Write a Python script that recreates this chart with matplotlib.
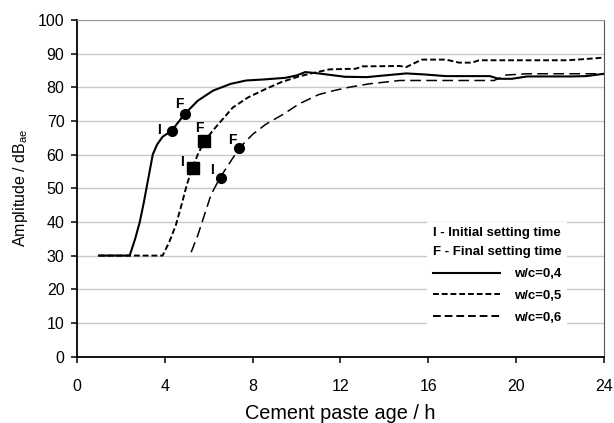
import numpy as np
import matplotlib
matplotlib.use("Agg")
import matplotlib.pyplot as plt
from matplotlib.lines import Line2D

plt.rcParams['font.family'] = ['Liberation Sans', 'DejaVu Sans']

# w/c = 0,4 (solid)
x04 = [1.0, 2.4, 2.65, 2.86, 3.05, 3.25, 3.45, 3.65, 3.9, 4.3, 4.9, 5.5, 6.2, 7.0, 7.7,
       8.5, 9.5, 10.0, 10.4, 11.0, 11.6, 12.2, 13.2, 14.0, 15.0, 15.8, 16.8,
       18.0, 18.8, 19.2, 19.8, 20.5, 21.5, 22.5, 23.2, 24.0]
y04 = [30, 30, 35, 40, 46, 53, 60, 63, 65.3, 67, 72, 76, 79, 81, 82,
       82.3, 82.8, 83.5, 84.5, 84.1, 83.6, 83.1, 83.0, 83.5, 84.1, 83.8, 83.3,
       83.3, 83.3, 82.5, 82.5, 83.2, 83.2, 83.2, 83.3, 84.0]

# w/c = 0,5 (short dashes)
x05 = [1.0, 3.9, 4.2, 4.5, 4.8, 5.0, 5.25, 5.5, 5.8, 6.3, 7.1, 7.8, 8.6, 9.3,
       10.1, 10.8, 11.5, 12.7, 13.0, 14.7, 15.0, 15.7, 16.8, 17.4, 18.0, 18.3,
       20.0, 22.3, 23.0, 24.0]
y05 = [30, 30, 34, 39, 46, 51, 56, 60, 64, 68, 74, 77, 79.5, 81.5,
       83.2, 84.3, 85.3, 85.5, 86.2, 86.3, 86.0, 88.2, 88.2, 87.3, 87.3, 88.0,
       88.0, 88.0, 88.3, 88.8]

# w/c = 0,6 (dashed)
x06 = [5.2, 5.5, 5.8, 6.1, 6.5, 7.0, 7.4, 8.0, 8.6, 9.4, 10.1, 11.0, 11.7,
       12.4, 13.3, 14.0, 14.7, 15.5, 17.0, 19.0, 19.5, 20.5, 22.0, 24.0]
y06 = [31, 36, 42, 48, 53, 58, 62, 66, 69, 72, 75, 77.8, 79,
       80, 81, 81.5, 82, 82, 82, 82, 83.6, 84, 84, 84]

# setting times (initial, final)
init_x = [4.32, 5.27, 6.55]
init_y = [67, 56, 53]
final_x = [4.9, 5.8, 7.36]
final_y = [72, 64, 62]
mark_style = ['o', 's', 'o']

fig = plt.figure(figsize=(6.14, 4.23), dpi=100)
ax = fig.add_axes([0.1254, 0.157, 0.8583, 0.796])

ax.plot(x04, y04, color='black', lw=1.5, ls='-', label='w/c=0,4')
ax.plot(x05, y05, color='black', lw=1.4, ls=(0, (3, 1.5)), label='w/c=0,5')
ax.plot(x06, y06, color='black', lw=1.1, ls=(0, (7, 3.5)), label='w/c=0,6')

for i in range(3):
    ax.plot(init_x[i], init_y[i], marker=mark_style[i], color='black',
            ms=7 if mark_style[i] == 'o' else 8, zorder=4)
    ax.plot(final_x[i], final_y[i], marker=mark_style[i], color='black',
            ms=7 if mark_style[i] == 'o' else 8, zorder=4)

# I / F labels next to markers (offsets in points)
i_off = [(-9.5, 1), (-8, 4), (-6.5, 6)]
f_off = [(-3.6, 7.5), (-3.6, 9.5), (-4.3, 5.5)]
for i in range(3):
    ax.annotate('I', (init_x[i], init_y[i]), xytext=i_off[i],
                textcoords='offset points', ha='center', va='center',
                fontsize=10, fontweight='bold')
    ax.annotate('F', (final_x[i], final_y[i]), xytext=f_off[i],
                textcoords='offset points', ha='center', va='center',
                fontsize=10, fontweight='bold')

ax.set_xlim(0, 24)
ax.set_ylim(0, 100)
ax.set_xticks(np.arange(0, 25, 4))
ax.set_yticks(np.arange(0, 101, 10))
ax.yaxis.grid(True, color='#c8c8c8', lw=1)
ax.set_axisbelow(True)

for s in ['left', 'bottom']:
    ax.spines[s].set_color('black')
    ax.spines[s].set_linewidth(1.3)
ax.spines['right'].set_color('#555555')
ax.spines['top'].set_color('#999999')
ax.tick_params(direction='out', length=4, width=1.1, labelsize=11.5)
ax.tick_params(axis='y', pad=5)
ax.tick_params(axis='x', pad=12)

ax.set_xlabel('Cement paste age / h', fontsize=14.3, labelpad=7)
ax.set_ylabel('Amplitude / dB$_{\\mathregular{ae}}$', fontsize=11.5, labelpad=6)

handles = [Line2D([], [], color='black', lw=1.5, ls='-'),
           Line2D([], [], color='black', lw=1.4, ls=(0, (3, 1.5))),
           Line2D([], [], color='black', lw=1.4, ls=(0, (4, 2)))]
leg = ax.legend(handles, ['w/c=0,4', 'w/c=0,5', 'w/c=0,6'],
                loc='upper right', bbox_to_anchor=(0.93, 0.40),
                borderaxespad=0, frameon=True, framealpha=1,
                edgecolor='none', facecolor='white', fancybox=False,
                handlelength=5.1, handletextpad=1.1, labelspacing=0.72,
                title='I - Initial setting time\nF - Final setting time',
                alignment='right', prop={'weight': 'bold', 'size': 9.5},
                title_fontproperties={'weight': 'bold', 'size': 9.5})
leg.get_title().set_linespacing(1.8)

fig.savefig('out.png', dpi=100)
